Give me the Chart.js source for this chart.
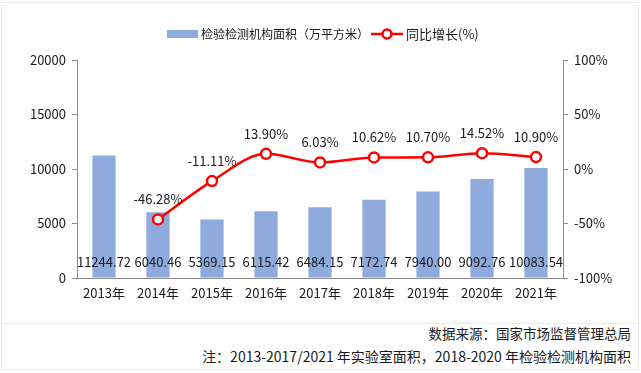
<!DOCTYPE html>
<html>
<head>
<meta charset="utf-8">
<script src="https://cdn.jsdelivr.net/npm/chart.js@4.4.0/dist/chart.umd.min.js"></script>
<style>
  body { margin: 0; background: #fff; }
  #wrap { position: relative; width: 641px; height: 373px; font-family: "Microsoft YaHei", "Noto Sans CJK SC", sans-serif; }
  #box { position: absolute; left: 1px; top: 2px; width: 638px; height: 368px; border: 1px solid #ebebeb; box-sizing: border-box; }
  #sep { position: absolute; left: 1px; top: 323px; width: 638px; height: 1px; background: #ebebeb; }
  #chartBox { position: absolute; left: 0; top: 0; width: 641px; height: 323px; }
  .note { position: absolute; right: 10px; color: #1a1a1a; white-space: nowrap; }
</style>
</head>
<body>
<div id="wrap">
  <div id="box"></div>
  <div id="sep"></div>
  <div id="chartBox"><canvas id="chart"></canvas></div>
  <div class="note" style="top:323px; font-size:13.5px;">数据来源：国家市场监督管理总局</div>
  <div class="note" style="top:346px; font-size:14px;">注：2013-2017/2021 年实验室面积，2018-2020 年检验检测机构面积</div>
</div>
<script>
// 数据
const years = ['2013年', '2014年', '2015年', '2016年', '2017年', '2018年', '2019年', '2020年', '2021年'];
const areaValues = [11244.72, 6040.46, 5369.15, 6115.42, 6484.15, 7172.74, 7940.00, 9092.76, 10083.54];
const growthValues = [null, -46.28, -11.11, 13.90, 6.03, 10.62, 10.70, 14.52, 10.90];
const barLabel = '检验检测机构面积（万平方米）';
const lineLabel = '同比增长(%)';

const FONT = '"Microsoft YaHei", "Noto Sans CJK SC", sans-serif';
const TEXT = '#1a1a1a';
const BAR_COLOR = '#8FAADC';
const LINE_COLOR = '#FF0000';
const AXIS_COLOR = '#8c8c8c';

// 数据标签 + 图例
const labelPlugin = {
    id: 'labels',
    afterDatasetsDraw(chart) {
        const ctx = chart.ctx;
        ctx.save();
        ctx.font = '13px ' + FONT;
        ctx.fillStyle = TEXT;
        ctx.textAlign = 'center';
        ctx.textBaseline = 'middle';

        const yBase = chart.scales.y.getPixelForValue(0);
        chart.getDatasetMeta(1).data.forEach((bar, i) => {
            ctx.fillText(areaValues[i].toFixed(2), bar.x, yBase - 16);
        });

        chart.getDatasetMeta(0).data.forEach((pt, i) => {
            if (growthValues[i] === null) return;
            ctx.fillText(growthValues[i].toFixed(2) + '%', pt.x, pt.y - 20);
        });
        ctx.restore();
    },
    afterDraw(chart) {
        const ctx = chart.ctx;
        ctx.save();
        ctx.font = '12px ' + FONT;
        ctx.textBaseline = 'middle';

        ctx.fillStyle = BAR_COLOR;
        ctx.fillRect(167, 30, 31, 8);
        ctx.fillStyle = TEXT;
        ctx.fillText(barLabel, 201, 34);

        ctx.strokeStyle = LINE_COLOR;
        ctx.lineWidth = 2.5;
        ctx.beginPath();
        ctx.moveTo(371, 34);
        ctx.lineTo(403, 34);
        ctx.stroke();
        ctx.beginPath();
        ctx.arc(387, 34, 4.5, 0, Math.PI * 2);
        ctx.fillStyle = '#fff';
        ctx.fill();
        ctx.stroke();
        ctx.fillStyle = TEXT;
        ctx.font = '13px ' + FONT;
        ctx.fillText(lineLabel, 406, 34);
        ctx.restore();
    }
};

new Chart(document.getElementById('chart'), {
    data: {
        labels: years,
        datasets: [
            {
                type: 'line',
                label: lineLabel,
                data: growthValues,
                yAxisID: 'y1',
                borderColor: LINE_COLOR,
                borderWidth: 2.5,
                backgroundColor: '#fff',
                pointRadius: 5,
                pointBorderWidth: 2.5,
                pointBackgroundColor: '#fff',
                pointBorderColor: LINE_COLOR,
                cubicInterpolationMode: 'monotone',
                order: 0
            },
            {
                type: 'bar',
                label: barLabel,
                data: areaValues,
                yAxisID: 'y',
                backgroundColor: BAR_COLOR,
                categoryPercentage: 1,
                barPercentage: 0.43,
                order: 1
            }
        ]
    },
    options: {
        responsive: true,
        maintainAspectRatio: false,
        animation: false,
        layout: { padding: { top: 60, bottom: 0, left: 0, right: 0 } },
        plugins: {
            legend: { display: false },
            tooltip: { enabled: false }
        },
        scales: {
            x: {
                grid: { drawOnChartArea: false, drawTicks: false },
                border: { display: true, color: AXIS_COLOR, width: 1 },
                ticks: { color: TEXT, font: { size: 13, family: FONT }, padding: 7, maxRotation: 0 },
                afterFit(scale) { scale.height = 45; }
            },
            y: {
                position: 'left',
                min: 0,
                max: 20000,
                ticks: { stepSize: 5000, color: TEXT, font: { size: 13, family: FONT }, padding: 6,
                         callback: v => String(v) },
                grid: { drawOnChartArea: false, drawTicks: true, tickLength: 5, color: AXIS_COLOR },
                border: { display: true, color: AXIS_COLOR, width: 1 },
                afterFit(scale) { scale.width = 77; }
            },
            y1: {
                position: 'right',
                min: -100,
                max: 100,
                ticks: { stepSize: 50, color: TEXT, font: { size: 13, family: FONT }, padding: 6,
                         callback: v => v + '%' },
                grid: { drawOnChartArea: false, drawTicks: true, tickLength: 5, color: AXIS_COLOR },
                border: { display: true, color: AXIS_COLOR, width: 1 },
                afterFit(scale) { scale.width = 78; }
            }
        }
    },
    plugins: [labelPlugin]
});
</script>
</body>
</html>
